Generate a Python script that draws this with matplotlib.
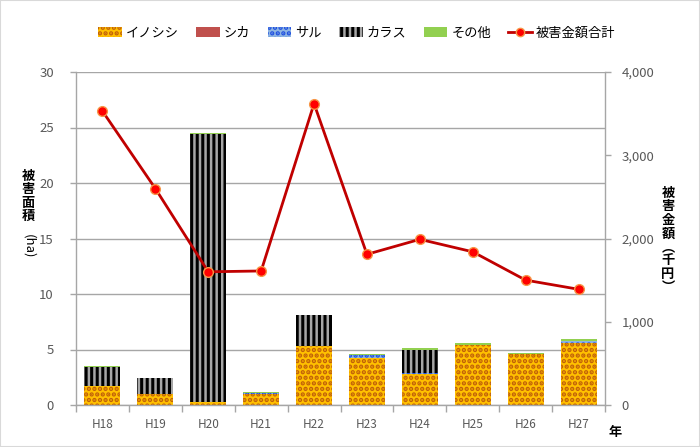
import numpy as np
import matplotlib
matplotlib.use("Agg")
import matplotlib.pyplot as plt
from matplotlib.patches import Patch, Rectangle
from matplotlib.lines import Line2D

plt.rcParams['font.family'] = ['Noto Sans CJK JP', 'DejaVu Sans']
plt.rcParams['hatch.linewidth'] = 2.2

years = ["H18", "H19", "H20", "H21", "H22", "H23", "H24", "H25", "H26", "H27"]
inoshishi = [1.7, 1.0, 0.3, 1.0, 5.3, 4.2, 2.8, 5.4, 4.6, 5.6]
shika = [0.0, 0.0, 0.0, 0.0, 0.0, 0.0, 0.0, 0.0, 0.0, 0.0]
saru = [0.05, 0.0, 0.0, 0.05, 0.0, 0.3, 0.05, 0.0, 0.0, 0.2]
karasu = [1.7, 1.4, 24.1, 0.0, 2.8, 0.0, 2.1, 0.0, 0.0, 0.0]
sonota = [0.1, 0.05, 0.1, 0.1, 0.0, 0.1, 0.15, 0.15, 0.1, 0.15]
damage_total = [3530, 2600, 1600, 1610, 3620, 1810, 1990, 1840, 1500, 1390]

grid_c = "#A6A6A6"
text_c = "#595959"

fig = plt.figure(figsize=(7, 4.47), dpi=100)
fig.patches.append(Rectangle((0, 0), 1, 1, transform=fig.transFigure,
                             fill=False, edgecolor="#D9D9D9", linewidth=1.5))
ax = fig.add_axes([76 / 700, 1 - 405 / 447, (605 - 76) / 700, (405 - 72) / 447])

x = np.arange(len(years))
w = 0.68
bottom = np.zeros(len(years))

ax.bar(x, inoshishi, w, bottom=bottom, color="#FFC000", edgecolor="#C0600A",
       hatch="...", linewidth=0, zorder=2)
bottom += inoshishi
ax.bar(x, shika, w, bottom=bottom, color="#C0504D", linewidth=0, zorder=2)
bottom += shika
ax.bar(x, saru, w, bottom=bottom, color="#8DB4E2", edgecolor="#1F4FE0",
       hatch="...", linewidth=0, zorder=2)
bottom += saru
ax.bar(x, karasu, w, bottom=bottom, color="#A6A6A6", edgecolor="black",
       hatch="|||", linewidth=0, zorder=2)
bottom += karasu
ax.bar(x, sonota, w, bottom=bottom, color="#92D050", linewidth=0, zorder=2)

ax.set_xlim(-0.5, len(years) - 0.5)
ax.set_ylim(0, 30)
ax.set_yticks(range(0, 31, 5))
ax.grid(axis="y", color=grid_c, linewidth=1, zorder=0)
ax.set_axisbelow(True)
ax.set_xticks(x)
ax.set_xticklabels(years)
ax.set_xticks(np.arange(-0.5, len(years), 1), minor=True)
ax.tick_params(axis="x", which="major", length=0, pad=9, labelsize=8.5, colors=text_c)
ax.tick_params(axis="x", which="minor", length=5, width=1, color=grid_c)
ax.tick_params(axis="y", length=4, width=1, color=grid_c, labelsize=9.5,
               labelcolor=text_c, pad=12)
for s in ["top", "right"]:
    ax.spines[s].set_visible(False)
for s in ["left", "bottom"]:
    ax.spines[s].set_color(grid_c)
    ax.spines[s].set_linewidth(1)

ax2 = ax.twinx()
ax2.plot(x, damage_total, color="#C00000", linewidth=2, marker="o", markersize=7,
         markerfacecolor="#FF0000", markeredgecolor="#F79646", markeredgewidth=1, zorder=5)
ax2.set_ylim(0, 4000)
ax2.set_yticks(range(0, 4001, 1000))
ax2.set_yticklabels([f"{v:,}" for v in range(0, 4001, 1000)])
ax2.tick_params(axis="y", length=4, width=1, color=grid_c, labelsize=9.5,
                labelcolor=text_c, pad=8)
for s in ["top", "left", "bottom"]:
    ax2.spines[s].set_visible(False)
ax2.spines["right"].set_color(grid_c)
ax2.spines["right"].set_linewidth(1)

fig.text(28 / 700, 1 - 196 / 447, "被\n害\n面\n積", ha="center", va="center",
         fontsize=9.5, fontweight="bold", linespacing=0.95)
fig.text(29 / 700, 1 - 246 / 447, "(ha)", ha="center", va="center",
         fontsize=9.5, rotation=270)
fig.text(668 / 700, 1 - 240 / 447, "被\n害\n金\n額\n︵\n千\n円\n︶", ha="center",
         va="center", fontsize=9.5, fontweight="bold", linespacing=0.95)
fig.text(615 / 700, 1 - 432 / 447, "年", ha="center", va="center",
         fontsize=9.5, fontweight="bold")

handles = [
    Patch(facecolor="#FFC000", edgecolor="#C0600A", hatch="...", linewidth=0, label="イノシシ"),
    Patch(facecolor="#C0504D", linewidth=0, label="シカ"),
    Patch(facecolor="#8DB4E2", edgecolor="#1F4FE0", hatch="...", linewidth=0, label="サル"),
    Patch(facecolor="#A6A6A6", edgecolor="black", hatch="|||", linewidth=0, label="カラス"),
    Patch(facecolor="#92D050", linewidth=0, label="その他"),
    Line2D([0], [0], color="#C00000", linewidth=2, marker="o", markersize=6,
           markerfacecolor="#FF0000", markeredgecolor="#F79646", label="被害金額合計"),
]
fig.legend(handles=handles, loc="center", bbox_to_anchor=(0.51, 1 - 33 / 447),
           ncol=6, frameon=False, fontsize=9.5, handlelength=1.8, handleheight=0.8,
           handletextpad=0.3, columnspacing=1.3)

fig.savefig("out.png", dpi=100)
